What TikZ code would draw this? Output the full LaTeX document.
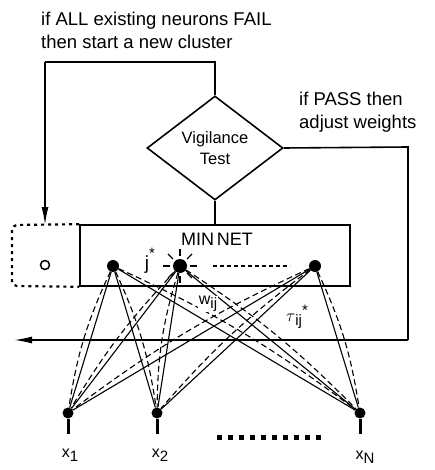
\documentclass[tikz,border=0pt]{standalone}
\usepackage{fontspec}
\setmainfont{Liberation Sans}
\usetikzlibrary{shapes.geometric,arrows.meta}
\newcommand{\lowsub}[1]{\raisebox{-0.45ex}{\fontsize{15}{17}\selectfont #1}}
\begin{document}
\begin{tikzpicture}[x=1pt,y=-1pt,
  wire/.style={line width=1.6pt},
  link/.style={line width=1.1pt},
  dlink/.style={line width=1.1pt,dash pattern=on 6pt off 3.5pt},
  neuron/.style={circle,fill=black,inner sep=0pt,minimum size=12pt},
  inneuron/.style={circle,fill=black,inner sep=0pt,minimum size=11pt},
  bigtip/.style={-{Latex[length=18pt,width=7pt]}},
  lbl/.style={font=\fontsize{18.5}{23}\selectfont,align=left,inner sep=0pt},
  xlbl/.style={font=\fontsize{16}{19}\selectfont,inner sep=0pt}]
\useasboundingbox (0,0) rectangle (435,470);

% captions
\node[lbl,anchor=west] (fail) at (41,30) {if ALL existing neurons FAIL\\then start a new cluster};
\node[lbl,anchor=west] (pass) at (299,112) {if PASS then\\adjust weights};

% vigilance test and competitive layer
\node[diamond,draw,wire,inner sep=0pt,minimum width=136pt,minimum height=104pt,
      font=\fontsize{16.5}{21}\selectfont,align=center] (vig) at (215,148) {Vigilance\\Test};
\node[draw,wire,minimum width=270pt,minimum height=61pt,inner sep=0pt] (net) at (215,255.5) {};
\node[font=\fontsize{18}{20}\selectfont,inner sep=0pt] (netlbl) at (217,239) {MIN\,NET};

% new-cluster slot
\draw[line width=2.2pt,dash pattern=on 3pt off 4pt,rounded corners=5pt]
  (net.north west) -- (12,225) -- (12,286) -- (net.south west);
\node[circle,draw,line width=1.5pt,inner sep=0pt,minimum size=9pt] (newn) at (45,265) {};

% control flow
\coordinate (failtop) at (215,62);
\coordinate (failleft) at (45,62);
\coordinate (slot) at (45,225);
\draw[wire] (vig.north) -- (failtop) -- (failleft);
\draw[wire,bigtip] (failleft) -- (slot);
\draw[wire] (vig.south) -- (net.north);
\coordinate (passr) at (408,147);
\coordinate (passd) at (408,340);
\coordinate (out) at (14,340);
\draw[wire] (vig.east) -- (passr) -- (passd);
\draw[wire,bigtip] (passd) -- (out);

% output neurons
\node[neuron] (o1) at (113,266) {};
\node[neuron,minimum size=14pt] (o2) at (180,266) {};
\node[neuron] (o3) at (315,266) {};
\foreach \a in {0,45,90,135,180,225,270,315}
  \draw[line width=1.3pt] (o2) ++(\a:-10pt) -- ++(\a:-7pt);
\coordinate (dl) at (213,266);
\coordinate (dr) at (290,266);
\draw[line width=1.3pt,dash pattern=on 4pt off 3pt] (dl) -- (dr);
\node[font=\fontsize{19}{21}\selectfont,inner sep=0pt] (jstar) at (150,261) {j\raisebox{1.1ex}{\fontsize{15}{17}\selectfont *}};

% input neurons
\node[inneuron] (i1) at (68,413) {};
\node[inneuron] (i2) at (157,413) {};
\node[inneuron] (iN) at (360,413) {};
\foreach \n/\x in {i1/68,i2/157,iN/360} {
  \coordinate (\n s) at (\x,434);
  \draw[line width=3pt] (\n) -- (\n s);
}
\node[xlbl] (x1) at (70,455) {x\lowsub{1}};
\node[xlbl] (x2) at (160,455) {x\lowsub{2}};
\node[xlbl] (xN) at (365,457) {x\lowsub{N}};
\coordinate (dots1) at (217,437);
\coordinate (dots2) at (326,437);
\draw[line width=5pt,dash pattern=on 5pt off 6pt] (dots1) -- (dots2);

% bottom-up (solid) and top-down (dashed) weights
\foreach \o in {o1,o2,o3}
  \foreach \i in {i1,i2,iN}
    \draw[link] (\o) -- (\i);
\draw[dlink] (o1) to[bend right=8] (i1);
\draw[dlink] (o1) to[bend left=8] (i2);
\draw[dlink] (o1) to[bend left=6] (iN);
\draw[dlink] (o2) to[bend right=6] (i1);
\draw[dlink] (o2) to[bend right=8] (i2);
\draw[dlink] (o2) to[bend left=6] (iN);
\draw[dlink] (o3) to[bend right=6] (i1);
\draw[dlink] (o3) to[bend right=6] (i2);
\draw[dlink] (o3) to[bend left=8] (iN);

\node[xlbl,inner sep=0.5pt,fill=white] (wij) at (208,304) {w\lowsub{ij}};
\node[xlbl] (tij) at (297,317) {$\tau$\lowsub{ij\raisebox{1.3ex}{*}}};
\end{tikzpicture}
\end{document}
